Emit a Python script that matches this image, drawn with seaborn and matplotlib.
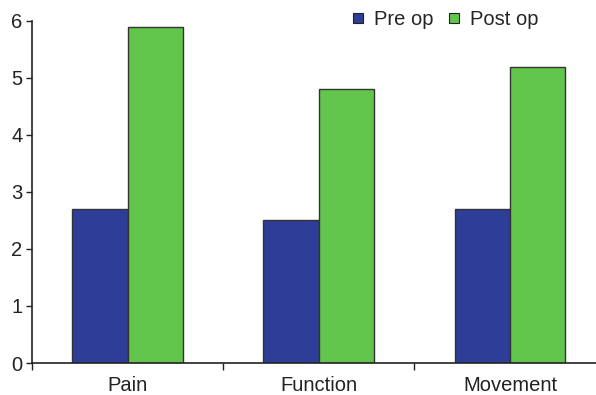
import matplotlib
matplotlib.use("Agg")
import matplotlib.pyplot as plt
import seaborn as sns
import pandas as pd
from matplotlib.lines import Line2D
from matplotlib.ticker import FixedLocator

categories = ["Pain", "Function", "Movement"]
pre_op = [2.7, 2.5, 2.7]
post_op = [5.9, 4.8, 5.2]
series = ["Pre op", "Post op"]
colors = ["#2E3D98", "#62C64C"]

df = pd.DataFrame({
    "cat": categories * 2,
    "val": pre_op + post_op,
    "grp": [series[0]] * 3 + [series[1]] * 3,
})

sns.set_style("white")
plt.rcParams["font.family"] = ["Liberation Sans", "DejaVu Sans"]

fig = plt.figure(figsize=(5.96, 3.95), dpi=100)
ax = fig.add_axes([0.054, 0.081, 0.946, 0.866])
sns.barplot(data=df, x="cat", y="val", hue="grp", palette=colors, width=0.58,
            gap=0, edgecolor="#333333", linewidth=1, ax=ax, legend=False,
            saturation=1)

ax.set_xlim(-0.5, 2.45)
ax.set_ylim(0, 6)
ax.set_yticks(range(7))
ax.set_xlabel("")
ax.set_ylabel("")
for s in ["top", "right"]:
    ax.spines[s].set_visible(False)
for s in ["left", "bottom"]:
    ax.spines[s].set_color("#222222")
    ax.spines[s].set_linewidth(1.2)
ax.tick_params(axis="y", which="major", left=True, length=4, width=1, labelsize=14.5, pad=3, colors="#222222")
ax.tick_params(axis="x", which="major", bottom=False, labelsize=14.5, pad=6, colors="#222222")
ax.xaxis.set_minor_locator(FixedLocator([-0.5, 0.5, 1.5, 2.5]))
ax.tick_params(axis="x", which="minor", bottom=True, length=5, width=1, color="#222222")

handles = [Line2D([0], [0], marker="s", linestyle="none", markersize=7,
                  markerfacecolor=c, markeredgecolor="#222222", markeredgewidth=0.8)
           for c in colors]
ax.legend(handles, series, loc="upper right", bbox_to_anchor=(0.93, 1.085), ncol=2,
          frameon=False, fontsize=14.5, handletextpad=0.3, columnspacing=0.5,
          handlelength=1.0)

fig.savefig("out.png", dpi=100)
